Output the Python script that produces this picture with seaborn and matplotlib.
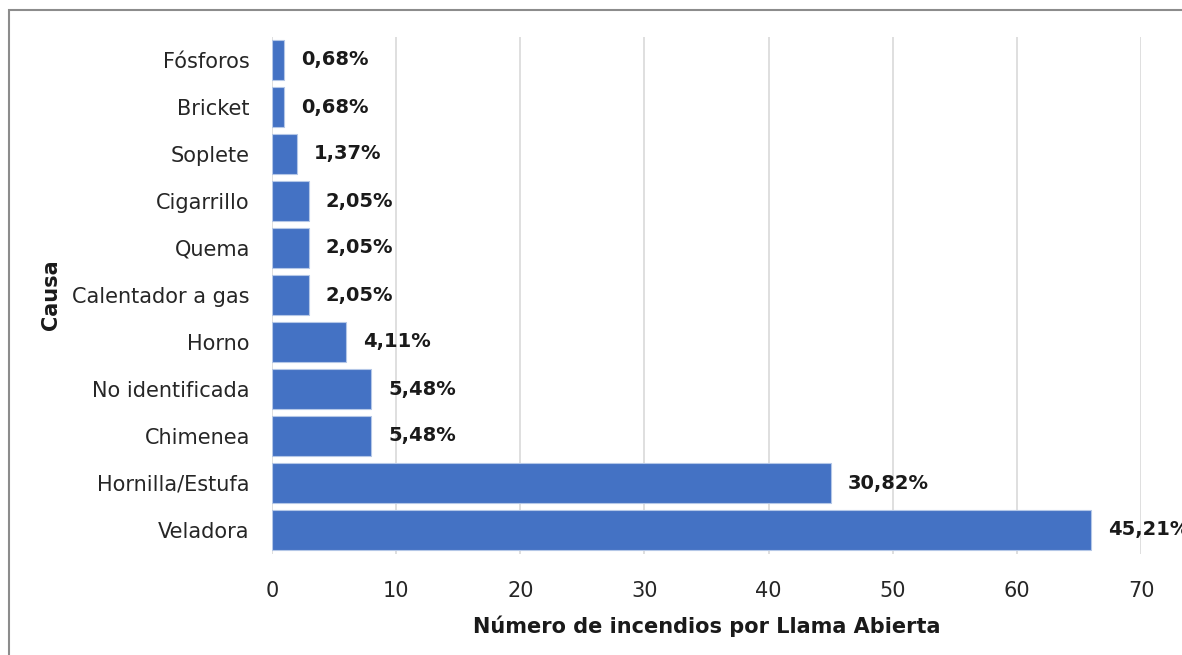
import pandas as pd
import matplotlib
matplotlib.use("Agg")
import matplotlib.pyplot as plt
import seaborn as sns
from matplotlib.patches import Rectangle

# datos (incendios por llama abierta)
causas = ["Fósforos", "Bricket", "Soplete", "Cigarrillo", "Quema",
          "Calentador a gas", "Horno", "No identificada", "Chimenea",
          "Hornilla/Estufa", "Veladora"]
incendios = [1, 1, 2, 3, 3, 3, 6, 8, 8, 45, 66]
porcentajes = ["0,68%", "0,68%", "1,37%", "2,05%", "2,05%", "2,05%",
               "4,11%", "5,48%", "5,48%", "30,82%", "45,21%"]
xticks = [0, 10, 20, 30, 40, 50, 60, 70]

sns.set_style("white")
plt.rcParams['font.family'] = ['DejaVu Sans']

df = pd.DataFrame({'Causa': causas, 'n': incendios})

fig = plt.figure(figsize=(11.82, 6.55), dpi=100)
ax = fig.add_axes([272 / 1182, 1 - 553.5 / 655, (1141 - 272) / 1182, (553.5 - 36.5) / 655])

sns.barplot(data=df, x='n', y='Causa', color='#4472C4', saturation=1,
            width=0.86, edgecolor='#B4C7E7', linewidth=0.8, ax=ax, zorder=3)

ax.set_xlim(0, 70)
ax.set_xticks(xticks)
ax.grid(axis='x', color='#D9D9D9', linewidth=1.2, zorder=0)
for s in ax.spines.values():
    s.set_visible(False)
ax.tick_params(axis='both', length=0, labelsize=15, colors='#262626')
ax.tick_params(axis='y', pad=16)
ax.tick_params(axis='x', pad=20)

ax.set_xlabel('Número de incendios por Llama Abierta', fontsize=15,
              fontweight='bold', color='#1a1a1a', labelpad=10)
ax.set_ylabel('Causa', fontsize=15, fontweight='bold', color='#1a1a1a', labelpad=8)

# etiquetas de porcentaje
for i, (v, p) in enumerate(zip(incendios, porcentajes)):
    ax.annotate(p, xy=(v, i), xytext=(12, 0), textcoords='offset points',
                ha='left', va='center', fontsize=14, fontweight='bold',
                color='#1a1a1a', annotation_clip=False)

# marco gris del gráfico
fig.patches.append(Rectangle((9 / 1182, -0.1), 1.2, 1 - 10 / 655 + 0.1,
                             transform=fig.transFigure, fill=False,
                             edgecolor='#8C8C8C', linewidth=1.5))

fig.savefig('out.png', dpi=100)
